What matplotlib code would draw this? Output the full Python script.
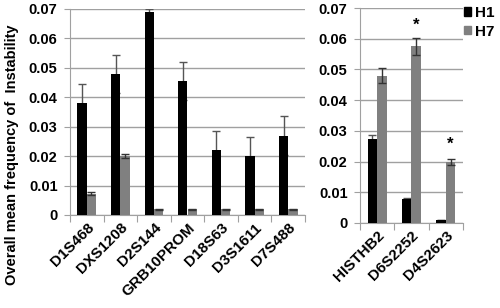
import numpy as np
import matplotlib
matplotlib.use("Agg")
import matplotlib.pyplot as plt
from matplotlib.patches import Patch

plt.rcParams['font.family'] = ['Liberation Sans', 'DejaVu Sans']
plt.rcParams['font.weight'] = 'bold'

#%% data
left_names = ["D1S468", "DXS1208", "D2S144", "GRB10PROM", "D18S63", "D3S1611", "D7S488"]
left_h1 = [0.038, 0.048, 0.069, 0.0455, 0.022, 0.020, 0.027]
left_h1_err = [0.0065, 0.0065, 0.001, 0.0065, 0.0065, 0.0065, 0.0065]
left_h7 = [0.0073, 0.020, 0.002, 0.002, 0.002, 0.002, 0.002]
left_h7_err = [0.0004, 0.0008, 0.0002, 0.0002, 0.0002, 0.0002, 0.0002]

right_names = ["HISTHB2", "D6S2252", "D4S2623"]
right_h1 = [0.0273, 0.0078, 0.001]
right_h1_err = [0.0013, 0.0002, 0.0001]
right_h7 = [0.048, 0.0575, 0.020]
right_h7_err = [0.0025, 0.0027, 0.001]
star_idx = [1, 2]
star_y = [0.0645, 0.0255]

yticks = [0, 0.01, 0.02, 0.03, 0.04, 0.05, 0.06, 0.07]
c_h1 = "#000000"
c_h7 = "#808080"
W, H = 500, 308

fig = plt.figure(figsize=(5, 3.08), dpi=100)

def panel(rect, names, h1, h1e, h7, h7e):
    ax = fig.add_axes(rect)
    x = np.arange(len(names))
    bw = 0.28
    ax.bar(x - bw/2, h1, bw, color=c_h1, zorder=3)
    ax.bar(x + bw/2, h7, bw, color=c_h7, zorder=3)
    # H1 error bars sit behind the black bars, so only the upper half shows
    ax.errorbar(x - bw/2, h1, yerr=h1e, fmt='none', ecolor='#555555',
                elinewidth=1, capsize=3, capthick=1, zorder=2)
    ax.errorbar(x + bw/2, h7, yerr=h7e, fmt='none', ecolor='#333333',
                elinewidth=1, capsize=3, capthick=1, zorder=4)
    ax.set_xlim(-0.5, len(names) - 0.5)
    ax.set_ylim(0, 0.07)
    ax.set_yticks(yticks)
    ax.set_yticklabels(["0"] + ["%.2f" % v for v in yticks[1:]], fontsize=10.5, fontweight='bold')
    ax.yaxis.grid(True, color='#a0a0a0', linewidth=1, zorder=0)
    ax.set_xticks(np.arange(len(names) + 1) - 0.5)
    ax.set_xticklabels([])
    ax.set_xticks(x, minor=True)
    ax.set_xticklabels(names, minor=True, rotation=45, ha='right',
                       rotation_mode='anchor', fontsize=11, fontweight='bold')
    ax.tick_params(axis='x', which='minor', length=0, pad=4)
    ax.tick_params(axis='x', which='major', length=5, color='#a0a0a0')
    ax.tick_params(axis='y', length=4, color='#a0a0a0', pad=5)
    for s in ['top', 'right']:
        ax.spines[s].set_visible(False)
    for s in ['left', 'bottom']:
        ax.spines[s].set_color('#a0a0a0')
    return ax, x

ax1, x1 = panel([70/W, 1 - 215/H, 235/W, 206/H], left_names,
                left_h1, left_h1_err, left_h7, left_h7_err)
ax2, x2 = panel([360/W, 1 - 223/H, 103/W, 215/H], right_names,
                right_h1, right_h1_err, right_h7, right_h7_err)

for i, yv in zip(star_idx, star_y):
    ax2.text(x2[i] + 0.14, yv, "*", ha='center', va='center', fontsize=12, fontweight='bold')

fig.text(12/W, 1 - 155/H, "Overall mean frequency of  Instability", rotation=90,
         ha='center', va='center', fontsize=10.5, fontweight='bold')

handles = [Patch(color=c_h1, label="H1"), Patch(color=c_h7, label="H7")]
fig.legend(handles=handles, loc='upper left', bbox_to_anchor=(464/W, 1 - 6/H),
           frameon=False, handlelength=0.45, handleheight=0.45,
           handletextpad=0.25, labelspacing=0.3, borderpad=0, borderaxespad=0,
           prop={'weight': 'bold', 'size': 11})

fig.savefig("out.png", dpi=100)
